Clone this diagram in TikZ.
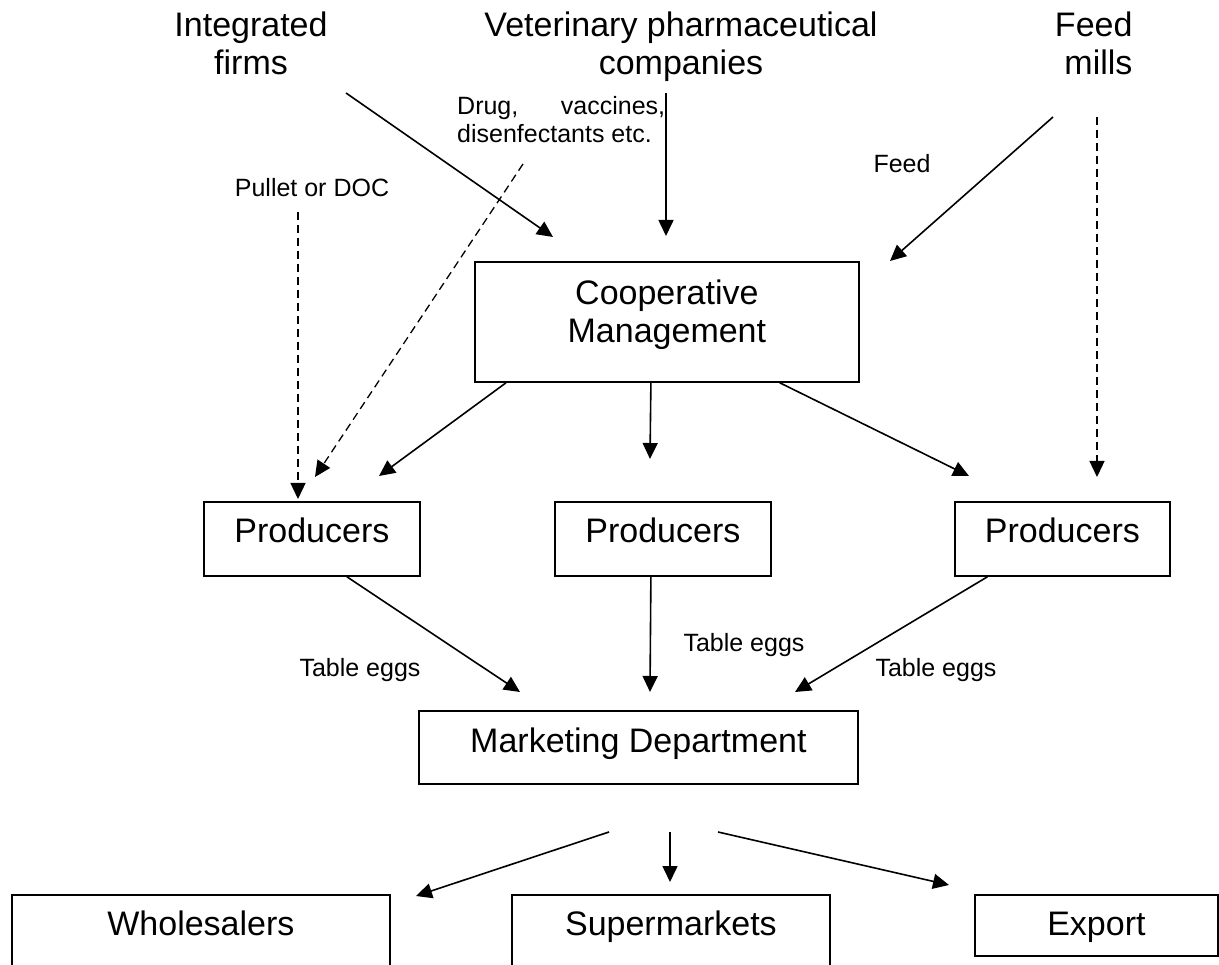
\documentclass[tikz,border=0pt]{standalone}
\usepackage{fontspec}
\setmainfont{Liberation Sans}
\usetikzlibrary{arrows.meta}

\tikzset{
  big/.style={font=\fontsize{34}{38}\selectfont},
  small/.style={font=\fontsize{25}{28}\selectfont},
  box/.style={draw, line width=1.8pt, big, anchor=north west, inner sep=0pt,
    text height=24pt, text depth=16pt},
  flow/.style={-{Triangle[length=16pt,width=15pt]}, line width=1.6pt},
  supply/.style={flow, line width=1.3pt, dash pattern=on 8pt off 5pt},
}

\begin{document}
\begin{tikzpicture}[x=1pt, y=-1pt]
    \useasboundingbox (0,0) rectangle (1219,965);

    % suppliers
    \node[big, anchor=base, align=center] (intf) at (251,75) {Integrated\\firms};
    \node[big, anchor=base, align=center] (vet) at (681,75) {Veterinary pharmaceutical\\companies};
    \node[big, anchor=base east, align=right] (mill) at (1136,75) {Feed\\mills};

    % flow labels
    \node[small, anchor=base west, align=left, inner sep=0pt] (drug) at (457,143)
        {\makebox[208pt][s]{Drug, vaccines,}\\disenfectants etc.};
    \node[small, anchor=base] (pullet) at (312,197) {Pullet or DOC};
    \node[small, anchor=base] (feed) at (902,173) {Feed};
    \node[small, anchor=base] (eggL) at (360,676) {Table eggs};
    \node[small, anchor=base] (eggM) at (744,651) {Table eggs};
    \node[small, anchor=base] (eggR) at (936,676) {Table eggs};

    % boxes
    \node[box, minimum width=384pt, minimum height=120pt, align=center,
        text height=, text depth=22pt] (coop) at (474,261) {Cooperative\\Management};
    \node[box, minimum width=216pt, minimum height=74pt] (prodL) at (203,501) {Producers};
    \node[box, minimum width=216pt, minimum height=74pt] (prodM) at (554,501) {Producers};
    \node[box, minimum width=215pt, minimum height=74pt] (prodR) at (954,501) {Producers};
    \node[box, minimum width=439pt, minimum height=73pt, text depth=13pt] (mkt) at (418,710) {Marketing Department};
    \node[box, minimum width=378pt, minimum height=90pt, text depth=32pt] (whole) at (11,894) {Wholesalers};
    \node[box, minimum width=318pt, minimum height=90pt, text depth=32pt] (super) at (511,894) {Supermarkets};
    \node[box, minimum width=243pt, minimum height=61pt, text depth=3pt] (export) at (974,894) {Export};

    % free ends
    \coordinate (intS) at (346,93);   \coordinate (intE) at (553,237);
    \coordinate (vetS) at (666,93);   \coordinate (vetE) at (666,236);
    \coordinate (drugS) at (523,164); \coordinate (drugE) at (315,477);
    \coordinate (pulS) at (298,212);  \coordinate (pulE) at (298,499);
    \coordinate (feedS) at (1053,117); \coordinate (feedE) at (890,261);
    \coordinate (millS) at (1097,117); \coordinate (millE) at (1097,477);
    \coordinate (cpL) at (379,476);   \coordinate (cpM) at (650,459);   \coordinate (cpR) at (969,476);
    \coordinate (mkL) at (520,692);   \coordinate (mkM) at (650,692);   \coordinate (mkR) at (795,692);
    \coordinate (outL) at (609,832);  \coordinate (outM) at (670,832);  \coordinate (outR) at (718,832);
    \coordinate (whE) at (416,896);   \coordinate (suE) at (670,882);   \coordinate (exE) at (949,885);

    \draw[flow] (intS) -- (intE);
    \draw[flow] (vetS) -- (vetE);
    \draw[flow] (feedS) -- (feedE);
    \draw[supply] (drugS) -- (drugE);
    \draw[supply] (pulS) -- (pulE);
    \draw[supply] (millS) -- (millE);

    \draw[flow] ([xshift=32pt]coop.south west) -- (cpL);
    \draw[flow] ([xshift=-16pt]coop.south) -- (cpM);
    \draw[flow] ([xshift=-80pt]coop.south east) -- (cpR);

    \draw[flow] ([xshift=35pt]prodL.south) -- (mkL);
    \draw[flow] ([xshift=-12pt]prodM.south) -- (mkM);
    \draw[flow] ([xshift=-75pt]prodR.south) -- (mkR);

    \draw[flow] (outL) -- (whE);
    \draw[flow] (outM) -- (suE);
    \draw[flow] (outR) -- (exE);
\end{tikzpicture}
\end{document}
